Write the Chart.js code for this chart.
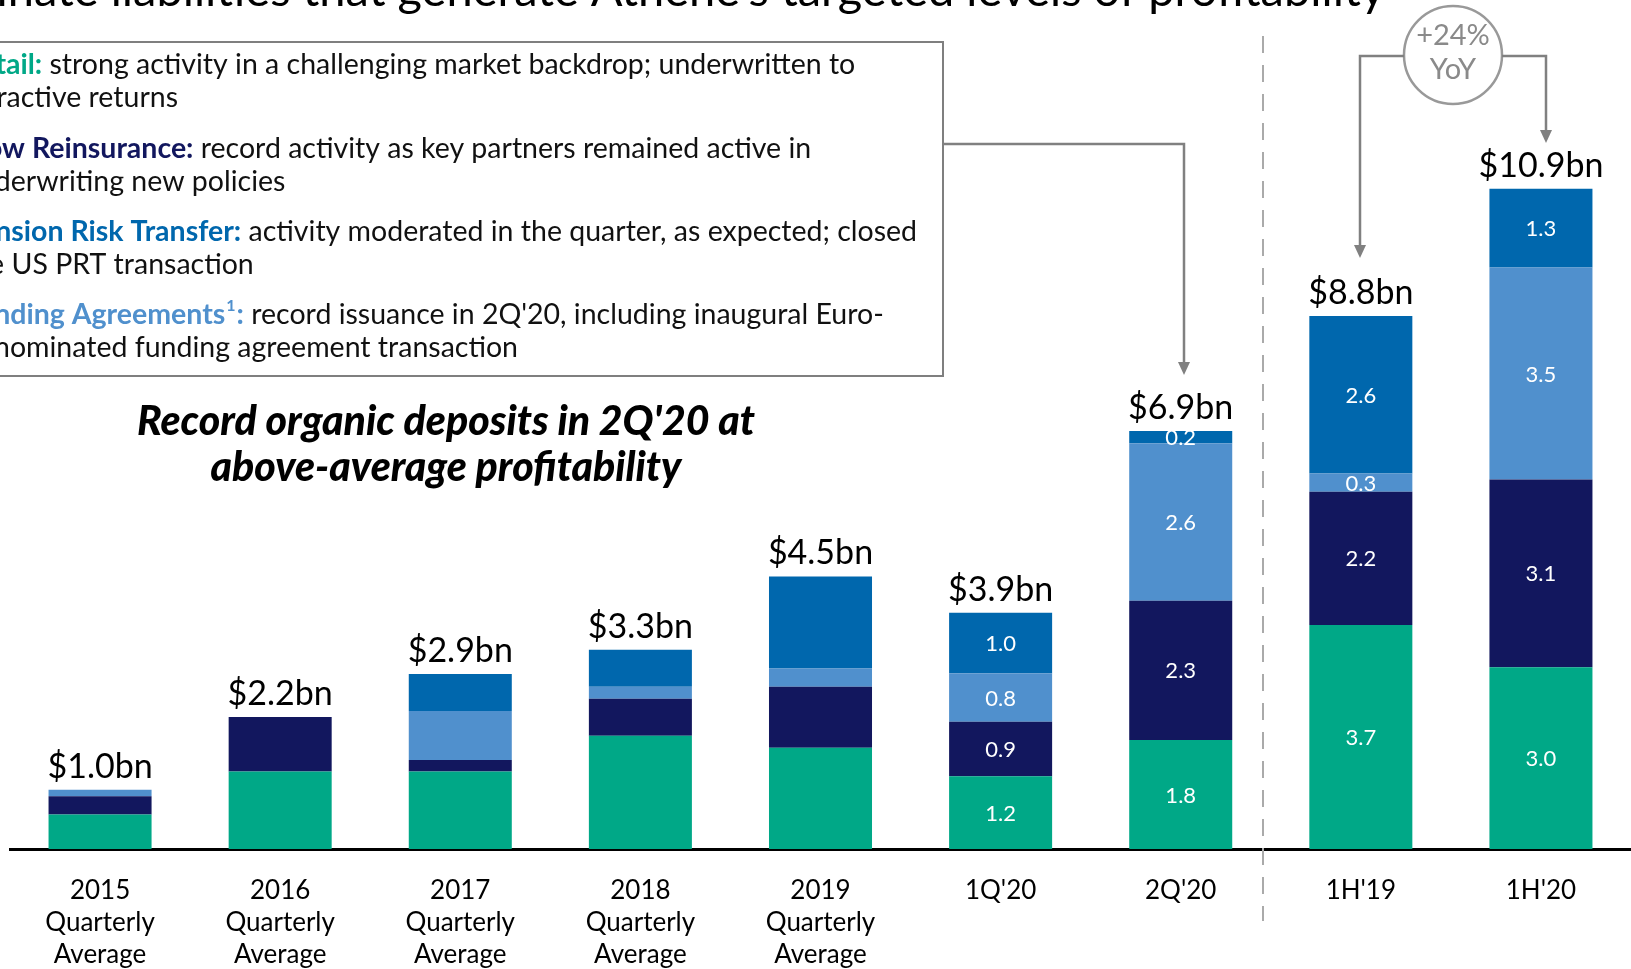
<!DOCTYPE html>
<html><head><meta charset="utf-8">
<script src="https://cdn.jsdelivr.net/npm/chart.js@4.4.1/dist/chart.umd.min.js"></script>
<style>html,body{margin:0;padding:0;background:#fff;overflow:hidden}#wrap{width:1631px;height:969px;position:relative}</style>
</head><body><div id="wrap"><canvas id="c" width="1631" height="969"></canvas></div>
<script>
// ---- data ----
const categories = [
  ["2015","Quarterly","Average"],
  ["2016","Quarterly","Average"],
  ["2017","Quarterly","Average"],
  ["2018","Quarterly","Average"],
  ["2019","Quarterly","Average"],
  "1Q'20","2Q'20","1H'19","1H'20"
];
const retail              = [0.57, 1.28, 1.28, 1.87, 1.67, 1.2, 1.8, 3.7, 3.0];
const flowReinsurance     = [0.30, 0.90, 0.19, 0.61, 1.01, 0.9, 2.3, 2.2, 3.1];
const fundingAgreements   = [0.11, 0.00, 0.81, 0.20, 0.30, 0.8, 2.6, 0.3, 3.5];
const pensionRiskTransfer = [0.00, 0.00, 0.61, 0.61, 1.52, 1.0, 0.2, 2.6, 1.3];
const labeledIndices = [5, 6, 7, 8];
const yoyText = ["+24%", "YoY"];
const chartTitle = ["Record organic deposits in 2Q'20 at", "above-average profitability"];
const pageHeading = "Originate liabilities that generate Athene's targeted levels of profitability";

const FONT = "Lato, 'Open Sans', sans-serif";
const C_GREEN = '#00A887', C_NAVY = '#12175E', C_LIGHT = '#5090CD', C_BLUE = '#0067AD';

const annotations = {
  id: 'annotations',
  afterDatasetsDraw(chart) {
    const ctx = chart.ctx;
    const ys = chart.scales.y;
    ctx.save();
    ctx.fillStyle = '#fff';
    ctx.font = `22px ${FONT}`;
    ctx.textAlign = 'center';
    ctx.textBaseline = 'middle';
    chart.data.datasets.forEach((ds, i) => {
      const meta = chart.getDatasetMeta(i);
      labeledIndices.forEach(idx => {
        const el = meta.data[idx];
        if (!el || !ds.data[idx]) return;
        ctx.fillText(ds.data[idx].toFixed(1), el.x, (el.y + el.base) / 2 + 1);
      });
    });
    ctx.fillStyle = '#000';
    ctx.font = `34px ${FONT}`;
    ctx.textBaseline = 'alphabetic';
    const meta0 = chart.getDatasetMeta(0);
    categories.forEach((c, idx) => {
      const sum = chart.data.datasets.reduce((s, ds) => s + ds.data[idx], 0);
      const y = ys.getPixelForValue(sum);
      ctx.fillText('$' + sum.toFixed(1) + 'bn', meta0.data[idx].x, y - 12);
    });
    ctx.restore();
  },
  afterDraw(chart) {
    const ctx = chart.ctx;
    ctx.save();
    ctx.fillStyle = '#000';
    ctx.font = `47px ${FONT}`;
    ctx.textAlign = 'right';
    ctx.textBaseline = 'alphabetic';
    ctx.fillText(pageHeading, 1385, 6);

    ctx.strokeStyle = '#aaaaaa';
    ctx.lineWidth = 2;
    ctx.setLineDash([17, 12]);
    ctx.beginPath(); ctx.moveTo(1263, 36); ctx.lineTo(1263, 921); ctx.stroke();
    ctx.setLineDash([]);

    ctx.strokeStyle = '#7f7f7f';
    ctx.lineWidth = 2;
    ctx.strokeRect(-5, 42, 948, 334);
    const items = [
      {lead: 'Retail:', color: C_GREEN, rest: ' strong activity in a challenging market backdrop; underwritten to', line2: 'attractive returns', y: 65},
      {lead: 'Flow Reinsurance:', color: C_NAVY, rest: ' record activity as key partners remained active in', line2: 'underwriting new policies', y: 149},
      {lead: 'Pension Risk Transfer:', color: C_BLUE, rest: ' activity moderated in the quarter, as expected; closed', line2: 'the US PRT transaction', y: 232},
      {lead: 'Funding Agreements', sup: '1', color: C_LIGHT, rest: ' record issuance in 2Q\'20, including inaugural Euro-', line2: 'denominated funding agreement transaction', y: 315}
    ];
    const x0 = -37;
    const fs = 28.5;
    ctx.textAlign = 'left';
    ctx.textBaseline = 'middle';
    items.forEach(it => {
      let x = x0;
      ctx.font = `bold ${fs}px ${FONT}`;
      ctx.fillStyle = it.color;
      ctx.fillText(it.lead, x, it.y);
      x += ctx.measureText(it.lead).width;
      if (it.sup) {
        ctx.font = `bold 16px ${FONT}`;
        ctx.fillText(it.sup, x + 1, it.y - 9);
        x += ctx.measureText(it.sup).width + 2;
        ctx.font = `bold ${fs}px ${FONT}`;
        ctx.fillText(':', x, it.y);
        x += ctx.measureText(':').width;
      }
      ctx.font = `${fs}px ${FONT}`;
      ctx.fillStyle = '#111';
      ctx.fillText(it.rest, x, it.y);
      ctx.fillText(it.line2, x0, it.y + 33);
    });

    const arrow = (x, yTip) => {
      ctx.beginPath();
      ctx.moveTo(x - 6, yTip - 13); ctx.lineTo(x + 6, yTip - 13); ctx.lineTo(x, yTip); ctx.closePath();
      ctx.fill();
    };
    ctx.strokeStyle = '#808080';
    ctx.fillStyle = '#808080';
    ctx.lineWidth = 2.5;
    ctx.beginPath(); ctx.moveTo(943, 144); ctx.lineTo(1184, 144); ctx.lineTo(1184, 363); ctx.stroke();
    arrow(1184, 375);

    ctx.strokeStyle = '#999';
    ctx.beginPath(); ctx.arc(1453, 55, 49, 0, Math.PI * 2); ctx.stroke();
    ctx.strokeStyle = '#808080';
    ctx.beginPath(); ctx.moveTo(1404, 56); ctx.lineTo(1360, 56); ctx.lineTo(1360, 246); ctx.stroke();
    arrow(1360, 258);
    ctx.beginPath(); ctx.moveTo(1502, 56); ctx.lineTo(1546, 56); ctx.lineTo(1546, 131); ctx.stroke();
    arrow(1546, 143);
    ctx.fillStyle = '#8a8a8a';
    ctx.font = `29px ${FONT}`;
    ctx.textAlign = 'center';
    ctx.fillText(yoyText[0], 1453, 36);
    ctx.fillText(yoyText[1], 1453, 70);

    ctx.fillStyle = '#000';
    ctx.font = `italic 900 41px ${FONT}`;
    ctx.fillText(chartTitle[0], 446, 422);
    ctx.fillText(chartTitle[1], 446, 468);
    ctx.restore();
  }
};

new Chart(document.getElementById('c'), {
  type: 'bar',
  data: {
    labels: categories,
    datasets: [
      {label: 'Retail', data: retail, backgroundColor: C_GREEN},
      {label: 'Flow Reinsurance', data: flowReinsurance, backgroundColor: C_NAVY},
      {label: 'Funding Agreements', data: fundingAgreements, backgroundColor: C_LIGHT},
      {label: 'Pension Risk Transfer', data: pensionRiskTransfer, backgroundColor: C_BLUE}
    ]
  },
  options: {
    responsive: false,
    animation: false,
    devicePixelRatio: 1,
    layout: {padding: {left: 10, right: 0, top: 1, bottom: 0}},
    datasets: {bar: {barPercentage: 0.572, categoryPercentage: 1, borderWidth: 0}},
    plugins: {legend: {display: false}, tooltip: {enabled: false}, title: {display: false}},
    scales: {
      x: {
        stacked: true,
        grid: {display: false, drawTicks: false},
        border: {display: true, color: '#000', width: 3},
        ticks: {color: '#000', font: {family: FONT, size: 26, lineHeight: 1.22}, padding: 26, autoSkip: false, maxRotation: 0},
        afterFit: (s) => { s.height = 120; }
      },
      y: {stacked: true, display: false, min: 0, max: 14}
    }
  },
  plugins: [annotations]
});
</script>
</body></html>
